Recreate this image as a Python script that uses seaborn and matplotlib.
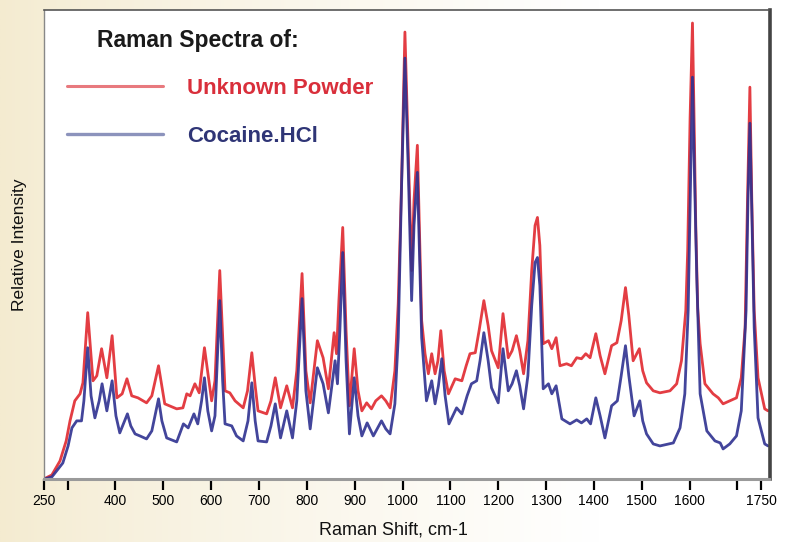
import numpy as np
import pandas as pd
import matplotlib
matplotlib.use("Agg")
import matplotlib.pyplot as plt
from matplotlib.lines import Line2D
import seaborn as sns

# ---------------- data ----------------
unknown_shift = [250, 267, 284, 297, 305, 315, 326, 332, 342, 353, 361, 371, 382, 393, 403, 414, 424, 434, 447, 465,
                 476, 490, 503, 528, 541, 549, 556, 566, 575, 586, 601, 608, 618, 629, 639, 650, 667, 676, 685, 692,
                 698, 716, 725, 734, 745, 758, 770, 779, 790, 798, 807, 822, 834, 845, 857, 862, 867, 875, 882, 889,
                 899, 907, 915, 925, 935, 944, 956, 965, 974, 984, 991, 998, 1005, 1012, 1019, 1024, 1031, 1040, 1047, 1054,
                 1061, 1068, 1074, 1080, 1087, 1096, 1110, 1124, 1133, 1141, 1152, 1160, 1170, 1179, 1186, 1200, 1210, 1221, 1229, 1238,
                 1245, 1253, 1262, 1270, 1277, 1282, 1287, 1294, 1305, 1312, 1321, 1329, 1343, 1353, 1364, 1374, 1383, 1392, 1404, 1413,
                 1423, 1437, 1448, 1457, 1466, 1473, 1482, 1495, 1502, 1510, 1524, 1538, 1559, 1573, 1583, 1592, 1596, 1601, 1606, 1609,
                 1613, 1617, 1622, 1632, 1649, 1660, 1670, 1684, 1698, 1708, 1716, 1721, 1726, 1730, 1735, 1743, 1757, 1764]
unknown_int = [0, 4, 18, 38, 58, 78, 85, 96, 166, 98, 103, 130, 101, 143, 81, 85, 100, 83, 81, 76,
               83, 113, 75, 70, 71, 85, 83, 95, 86, 131, 78, 98, 208, 88, 86, 78, 71, 88, 126, 93,
               68, 65, 78, 101, 71, 93, 71, 108, 205, 108, 76, 138, 121, 90, 146, 125, 178, 251, 148, 73,
               130, 88, 68, 76, 70, 78, 83, 78, 71, 108, 175, 296, 446, 328, 208, 278, 333, 158, 125, 105,
               125, 105, 118, 148, 108, 85, 100, 98, 113, 125, 126, 148, 178, 153, 128, 111, 165, 121, 128, 143,
               128, 105, 138, 208, 253, 261, 233, 135, 138, 130, 141, 113, 115, 113, 121, 120, 125, 121, 145, 123,
               105, 133, 136, 158, 191, 163, 118, 130, 108, 96, 88, 86, 88, 95, 118, 168, 228, 360, 455, 370,
               250, 170, 135, 95, 85, 81, 75, 78, 81, 101, 151, 278, 391, 278, 168, 101, 70, 68]

cocaine_shift = [250, 267, 290, 301, 309, 319, 329, 334, 342, 349, 357, 366, 372, 382, 393, 401, 409, 425, 432, 441,
                 451, 465, 476, 490, 497, 507, 528, 542, 552, 564, 572, 580, 586, 593, 601, 608, 618, 624, 629, 643,
                 653, 667, 677, 685, 692, 698, 716, 725, 734, 745, 758, 770, 779, 790, 798, 807, 822, 834, 845, 859,
                 864, 869, 875, 882, 889, 899, 907, 915, 926, 939, 947, 956, 965, 974, 984, 991, 998, 1005, 1012, 1019,
                 1024, 1031, 1040, 1050, 1061, 1068, 1075, 1082, 1089, 1097, 1113, 1124, 1135, 1144, 1155, 1162, 1170, 1179, 1186, 1200,
                 1210, 1221, 1229, 1238, 1245, 1253, 1262, 1270, 1277, 1282, 1287, 1294, 1305, 1312, 1321, 1333, 1350, 1364, 1374, 1385,
                 1393, 1404, 1413, 1423, 1437, 1449, 1457, 1466, 1473, 1484, 1496, 1502, 1510, 1524, 1538, 1566, 1580, 1590, 1597, 1602,
                 1606, 1610, 1615, 1622, 1636, 1653, 1664, 1670, 1684, 1698, 1708, 1718, 1722, 1726, 1730, 1735, 1743, 1757, 1764]
cocaine_int = [0, 2, 16, 33, 51, 58, 58, 78, 131, 83, 61, 78, 95, 68, 98, 63, 46, 65, 53, 45,
               43, 40, 48, 80, 58, 41, 37, 55, 51, 65, 55, 78, 101, 68, 48, 63, 178, 98, 55, 53,
               43, 38, 58, 96, 58, 38, 37, 53, 75, 41, 68, 41, 78, 180, 88, 50, 111, 95, 66, 118,
               95, 148, 226, 118, 45, 101, 63, 43, 56, 43, 50, 58, 50, 45, 75, 141, 293, 420, 308, 178,
               253, 306, 141, 78, 98, 75, 93, 120, 83, 55, 71, 65, 83, 95, 98, 118, 146, 118, 91, 76,
               130, 88, 95, 108, 93, 70, 103, 173, 216, 221, 193, 90, 95, 85, 93, 60, 55, 59, 56, 60,
               55, 81, 63, 41, 73, 78, 103, 133, 103, 63, 78, 58, 45, 35, 33, 36, 51, 85, 168, 298,
               401, 308, 201, 85, 48, 38, 36, 30, 35, 43, 68, 168, 278, 355, 268, 151, 61, 35, 33]

series_names = ["Unknown Powder", "Cocaine.HCl"]
tick_values = [250, 300, 400, 500, 600, 700, 800, 900, 1000, 1100, 1200, 1300, 1400, 1500, 1600, 1700, 1750]
tick_labels = ["250", "", "400", "500", "600", "700", "800", "900", "1000", "1100", "1200", "1300", "1400",
               "1500", "1600", "", "1750"]

df = pd.concat([
    pd.DataFrame({"shift": unknown_shift, "intensity": unknown_int, "sample": series_names[0]}),
    pd.DataFrame({"shift": cocaine_shift, "intensity": cocaine_int, "sample": series_names[1]}),
], ignore_index=True)

# ---------------- style ----------------
sns.set_theme(style="white")
plt.rcParams["font.family"] = ["Liberation Sans", "DejaVu Sans"]

W, H = 798, 542
fig = plt.figure(figsize=(W / 100, H / 100), dpi=100)

# background gradient (cream on the left fading to white)
bg = fig.add_axes([0, 0, 1, 1], zorder=-10)
xg = np.linspace(0, 1, 400)
t = np.clip(xg / 0.75, 0, 1) ** 0.8
c0 = np.array([244, 235, 208]) / 255.0
c1 = np.array([255, 255, 255]) / 255.0
row = c0[None, :] * (1 - t[:, None]) + c1[None, :] * t[:, None]
img = np.repeat(row[None, :, :], 10, axis=0)
bg.imshow(img, aspect="auto", extent=[0, 1, 0, 1])
bg.axis("off")

ax_l, ax_r = 43.7 / W, 769.5 / W
ax_b, ax_t = 1 - 479 / H, 1 - 10 / H
ax = fig.add_axes([ax_l, ax_b, ax_r - ax_l, ax_t - ax_b])
ax.set_facecolor("white")

palette = {series_names[0]: "#E0282E", series_names[1]: "#2E3190"}
sns.lineplot(data=df, x="shift", y="intensity", hue="sample", hue_order=series_names,
             palette=palette, estimator=None, sort=False, linewidth=2.0, alpha=0.9,
             legend=False, ax=ax)
for ln in ax.get_lines():
    ln.set_solid_joinstyle("round")

ax.set_xlim(250, 1767)
ax.set_ylim(0, 468)
ax.set_xticks(tick_values)
ax.set_xticklabels(tick_labels)
ax.set_yticks([])
ax.tick_params(axis="x", direction="out", length=8, width=1.6, color="black",
               labelsize=10, pad=3, bottom=True)
for lab in ax.get_xticklabels():
    lab.set_color("black")

ax.set_xlabel("")
ax.set_ylabel("")
fig.text(393 / W, 1 - 530 / H, "Raman Shift, cm-1", ha="center", va="center", fontsize=13, color="#111111")
fig.text(20 / W, 1 - 245 / H, "Relative Intensity", ha="center", va="center", rotation=90,
         fontsize=12.5, color="#111111")

for side, col, lw in [("top", "#555555", 1.2), ("left", "#888888", 1.0),
                      ("right", "#444444", 2.6), ("bottom", "#9a9a9a", 2.2)]:
    ax.spines[side].set_visible(True)
    ax.spines[side].set_color(col)
    ax.spines[side].set_linewidth(lw)

# legend block
ax.text((97 - 43.7) / (769.5 - 43.7), 1 - (40 - 10) / 469, "Raman Spectra of:", transform=ax.transAxes,
        ha="left", va="center", fontsize=16.5, fontweight="bold", color="#1a1a1a")
handles = [Line2D([], [], color="#E8797E", lw=2.2), Line2D([], [], color="#8C93BC", lw=2.4)]
leg = ax.legend(handles, series_names, loc="upper left",
                bbox_to_anchor=(67 / W, 1 - 78 / H), bbox_transform=fig.transFigure,
                frameon=False, borderaxespad=0, borderpad=0, handlelength=4.3, handletextpad=1.12,
                labelspacing=1.22, prop={"size": 16, "weight": "bold"})
for txt, col in zip(leg.get_texts(), ["#D92F3B", "#2F3576"]):
    txt.set_color(col)

fig.savefig("out.png", dpi=100)
